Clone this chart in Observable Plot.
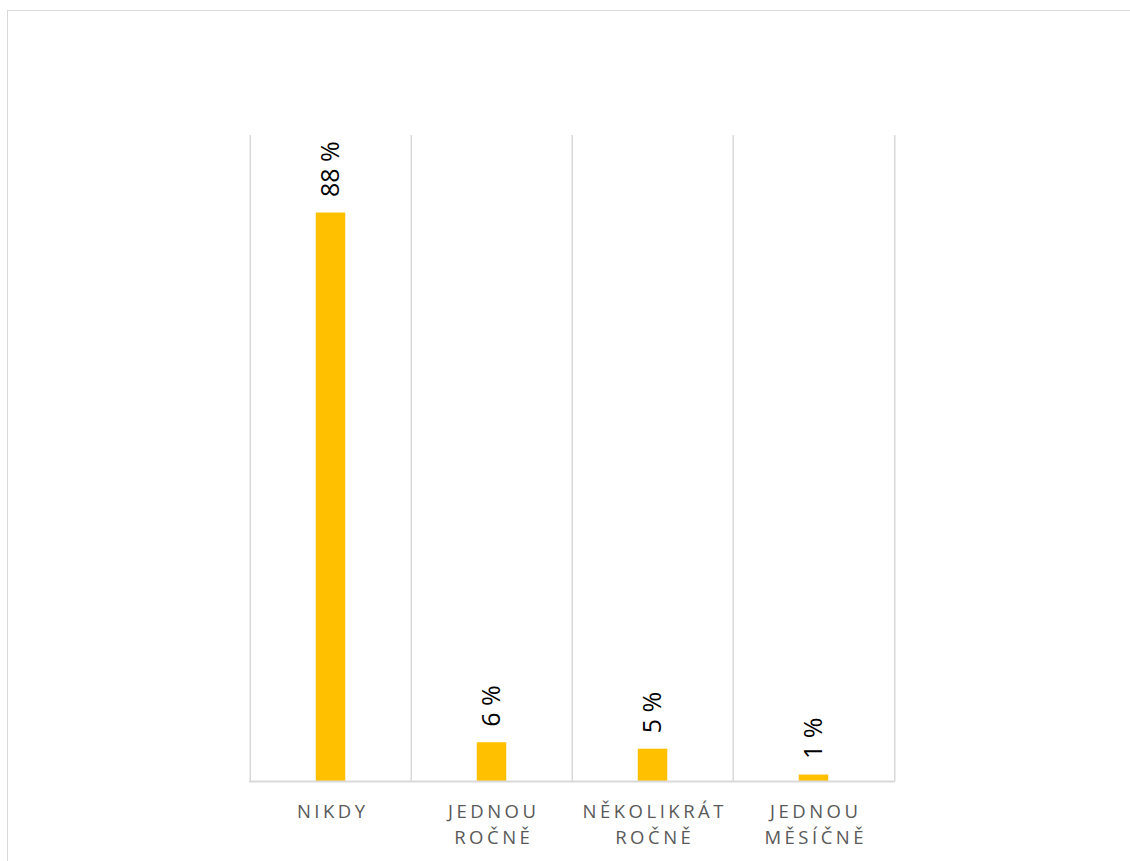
<!DOCTYPE html>
<html>
<head>
<meta charset="utf-8">
<script src="https://cdn.jsdelivr.net/npm/d3@7"></script>
<script src="https://cdn.jsdelivr.net/npm/@observablehq/plot@0.6"></script>
<style>
  html, body { margin: 0; padding: 0; background: #fff; overflow: hidden; }
  #frame { position: absolute; left: 7px; top: 10px; width: 1300px; height: 1000px;
           border-left: 1.5px solid #d9d9d9; border-top: 1.5px solid #d9d9d9; box-sizing: border-box; }
  #chart { position: absolute; left: 0; top: 0; }
  #chart g[aria-label="x-axis tick label"] text { letter-spacing: 3.5px; }
</style>
</head>
<body>
<div id="frame"></div>
<div id="chart"></div>
<script>
const categories = ["NIKDY", "JEDNOU ROČNĚ", "NĚKOLIKRÁT ROČNĚ", "JEDNOU MĚSÍČNĚ"];
const tickLabels = ["NIKDY", "JEDNOU\nROČNĚ", "NĚKOLIKRÁT\nROČNĚ", "JEDNOU\nMĚSÍČNĚ"];
const values = [88, 6, 5, 1];
const valueLabels = ["88 %", "6 %", "5 %", "1 %"];

const data = categories.map((c, i) => ({category: c, value: values[i], label: valueLabels[i]}));

const W = 1130, H = 861;
const mL = 249, mR = 235, mT = 135, mB = 80;
const bw = (W - mL - mR) / categories.length;
const barW = 30;
const inset = (bw - barW) / 2;

const chart = Plot.plot({
  width: W,
  height: H,
  marginLeft: mL,
  marginRight: mR,
  marginTop: mT,
  marginBottom: mB,
  style: {fontFamily: "'Open Sans', sans-serif", background: "transparent"},
  x: {domain: categories, padding: 0, label: null},
  y: {domain: [0, 100], axis: null},
  marks: [
    Plot.ruleX(categories, {x: d => d, dx: -bw / 2, stroke: "#d9d9d9", strokeWidth: 1.5}),
    Plot.ruleX([categories[categories.length - 1]], {x: d => d, dx: bw / 2, stroke: "#d9d9d9", strokeWidth: 1.5}),
    Plot.barY(data, {x: "category", y: "value", fill: "#FFC000", insetLeft: inset, insetRight: inset}),
    Plot.ruleY([0], {stroke: "#d9d9d9", strokeWidth: 2}),
    Plot.text(data, {x: "category", y: "value", text: "label", rotate: -90, textAnchor: "start",
                     lineAnchor: "middle", dy: -16, fontSize: 25, fill: "#000"}),
    Plot.axisX({tickSize: 0, tickPadding: 18, fontSize: 18.5, lineHeight: 1.4, fill: "#595959",
                dx: 1.75, tickFormat: (d, i) => tickLabels[categories.indexOf(d)]})
  ]
});
document.getElementById("chart").appendChild(chart);
</script>
</body>
</html>
